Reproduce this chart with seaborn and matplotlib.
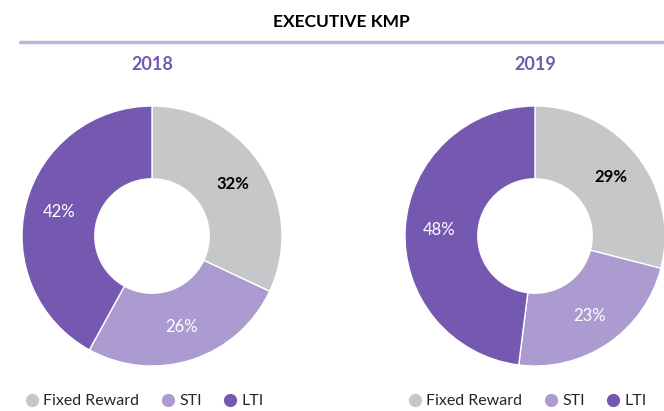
import matplotlib
matplotlib.use("Agg")
import seaborn as sns
import matplotlib.pyplot as plt
from matplotlib.lines import Line2D

categories = ["Fixed Reward", "STI", "LTI"]
years = ["2018", "2019"]
values_2018 = [32, 26, 42]
values_2019 = [29, 23, 48]

sns.set_style("white")
plt.rcParams["font.family"] = ["Lato", "DejaVu Sans"]

colors = ["#c6c7c9", "#ab9bd0", "#7559b0"]
label_colors = ["black", "white", "white"]

W, H = 664, 411
fig = plt.figure(figsize=(W / 100, H / 100), dpi=100)

def px_axes(cx, cy, r):
    return fig.add_axes([(cx - r) / W, (H - cy - r) / H, 2 * r / W, 2 * r / H])

fig.text(341 / W, 1 - 22 / H, "EXECUTIVE KMP", ha="center", va="center",
         fontsize=12.5, fontweight="bold", color="black")
fig.add_artist(Line2D([20 / W, 1], [1 - 42 / H, 1 - 42 / H], color="#c0b0dc", lw=2.5,
                      transform=fig.transFigure))

centers = [152, 535]
for cx, year, vals in zip(centers, years, [values_2018, values_2019]):
    ax = px_axes(cx, 236, 130)
    wedges, texts = ax.pie(vals, colors=colors, startangle=90, counterclock=False,
                           radius=1, labels=[f"{v}%" for v in vals], labeldistance=0.74,
                           wedgeprops=dict(width=0.56, edgecolor="white", linewidth=1))
    for t, c in zip(texts, label_colors):
        t.set_color(c)
        t.set_fontsize(12)
        t.set_ha("center")
        t.set_va("center")
        if c == "black":
            t.set_fontweight("bold")
    ax.set_xlim(-1, 1)
    ax.set_ylim(-1, 1)
    ax.set_aspect("equal")
    ax.axis("off")
    fig.text(cx / W, 1 - 64 / H, year, ha="center", va="center", fontsize=13,
             color="#7559b0", fontweight="bold")

    handles = [Line2D([], [], marker="o", color="none", markerfacecolor=c,
                      markeredgecolor=c, markersize=8.5) for c in colors]
    fig.legend(handles, categories, ncol=3, frameon=False,
               loc="center left", bbox_to_anchor=((cx - 128) / W, 1 - 401 / H),
               fontsize=11.5, handletextpad=0.2, columnspacing=1.3,
               handlelength=1.0, borderaxespad=0, borderpad=0)

fig.savefig("out.png", dpi=100)
